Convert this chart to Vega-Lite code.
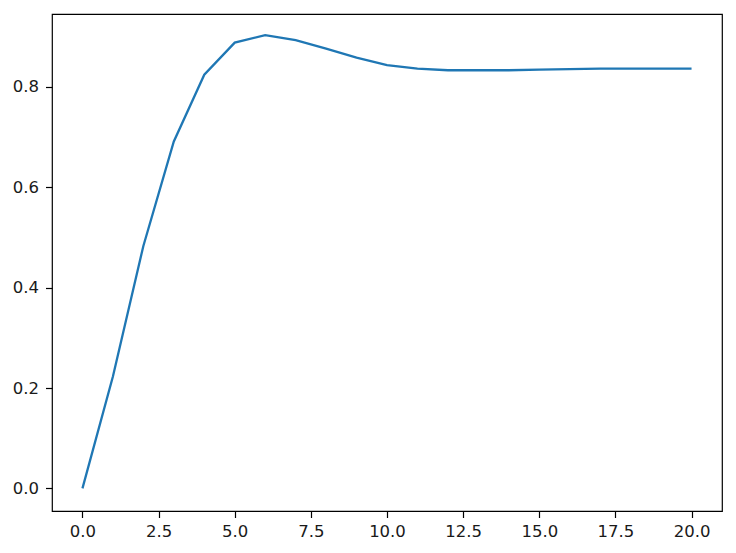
{
  "$schema": "https://vega.github.io/schema/vega-lite/v6.json",
  "autosize": "none",
  "width": 670,
  "height": 497,
  "padding": {"left": 52, "top": 14, "right": 14, "bottom": 42},
  "background": "white",
  "config": {
    "view": {"stroke": "black", "strokeWidth": 1.2},
    "axis": {
      "grid": false,
      "domain": false,
      "tickColor": "black",
      "tickSize": 6.5,
      "tickWidth": 1.2,
      "labelFont": "DejaVu Sans",
      "labelFontSize": 16.5,
      "labelColor": "#1a1a1a",
      "titleFontSize": 0
    }
  },
  "data": {
    "values": [
      {"t": 0, "y": 0.0},
      {"t": 1, "y": 0.223},
      {"t": 2, "y": 0.483},
      {"t": 3, "y": 0.691},
      {"t": 4, "y": 0.824},
      {"t": 5, "y": 0.888},
      {"t": 6, "y": 0.903},
      {"t": 7, "y": 0.893},
      {"t": 8, "y": 0.876},
      {"t": 9, "y": 0.858},
      {"t": 10, "y": 0.843},
      {"t": 11, "y": 0.836},
      {"t": 12, "y": 0.833},
      {"t": 13, "y": 0.833},
      {"t": 14, "y": 0.833},
      {"t": 15, "y": 0.834},
      {"t": 16, "y": 0.835},
      {"t": 17, "y": 0.836},
      {"t": 18, "y": 0.836},
      {"t": 19, "y": 0.836},
      {"t": 20, "y": 0.836}
    ]
  },
  "mark": {"type": "line", "color": "#1f77b4", "strokeWidth": 2.3},
  "encoding": {
    "x": {
      "field": "t", "type": "quantitative", "title": null,
      "scale": {"domain": [-1, 21], "nice": false, "zero": false},
      "axis": {"values": [0, 2.5, 5, 7.5, 10, 12.5, 15, 17.5, 20], "format": ".1f", "labelFlush": false, "labelPadding": 6}
    },
    "y": {
      "field": "y", "type": "quantitative", "title": null,
      "scale": {"domain": [-0.045, 0.945], "nice": false, "zero": false},
      "axis": {"values": [0, 0.2, 0.4, 0.6, 0.8], "format": ".1f", "labelFlush": false, "labelPadding": 7}
    }
  }
}
